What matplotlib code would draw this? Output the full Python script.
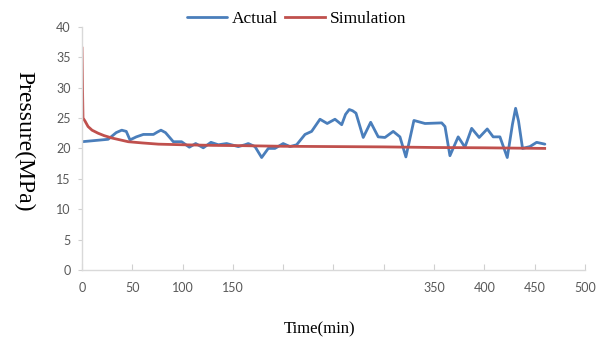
import numpy as np
import matplotlib
matplotlib.use("Agg")
import matplotlib.pyplot as plt

# measured series (min, MPa)
actual_t = [0, 26, 34, 39.5, 44, 47.7, 54, 61, 71, 75, 78.5, 83, 90.8, 99,
            106.7, 113, 120.6, 128.2, 135.5, 143.8, 155.4, 162, 165.3, 172,
            178.6, 185.2, 191.8, 200, 206.8, 213.4, 221.7, 228.3, 236.6, 243.8,
            251.5, 258.2, 262, 265.7, 269, 272.4, 279.6, 287, 294.5, 301.2,
            309.4, 316.1, 322, 330, 341, 357.6, 360.9, 365.8, 374, 380.7,
            387.4, 394.9, 402.9, 408.8, 415.5, 422.8, 428, 431.1, 434, 438,
            445.3, 452, 460.2]
actual_p = [21.1, 21.5, 22.6, 23.0, 22.8, 21.4, 21.9, 22.3, 22.3, 22.7, 23.0,
            22.6, 21.1, 21.1, 20.2, 20.8, 20.1, 21.0, 20.6, 20.8, 20.3, 20.6,
            20.8, 20.3, 18.5, 20.0, 20.0, 20.8, 20.3, 20.6, 22.3, 22.8, 24.8,
            24.1, 24.8, 23.9, 25.6, 26.4, 26.2, 25.8, 21.8, 24.3, 21.9, 21.8,
            22.8, 21.9, 18.6, 24.6, 24.1, 24.2, 23.6, 18.8, 21.9, 20.2, 23.3,
            21.8, 23.2, 21.9, 21.9, 18.5, 24.0, 26.6, 24.5, 20.0, 20.3, 21.0,
            20.7]

sim_t = [0, 0.5, 1, 3, 6, 10, 16, 22, 30, 38, 46, 60, 76, 100, 130, 160, 200,
         250, 300, 350, 400, 460]
sim_p = [36.5, 30, 25, 24.5, 23.6, 23.0, 22.5, 22.1, 21.7, 21.4, 21.1, 20.9,
         20.7, 20.6, 20.5, 20.45, 20.35, 20.3, 20.25, 20.15, 20.1, 20.0]

xticks = [0, 50, 100, 150, 200, 250, 300, 350, 400, 450, 500]
xlabels = ['0', '50', '100', '150', '', '', '', '350', '400', '450', '500']
yticks = [0, 5, 10, 15, 20, 25, 30, 35, 40]

fig = plt.figure(figsize=(6.03, 3.4), dpi=100)
ax = fig.add_axes([0.136, 0.206, 0.834, 0.715])

ax.plot(actual_t, actual_p, color='#4a7ebb', lw=2.0, label='Actual',
        solid_joinstyle='round', solid_capstyle='round')
ax.plot(sim_t, sim_p, color='#c0504d', lw=2.0, label='Simulation',
        solid_joinstyle='round')

ax.set_xlim(0, 500)
ax.set_ylim(0, 40)
ax.set_xticks(xticks)
ax.set_xticklabels(xlabels)
ax.set_yticks(yticks)

for s in ['top', 'right']:
    ax.spines[s].set_visible(False)
for s in ['left', 'bottom']:
    ax.spines[s].set_color('#d9d9d9')
    ax.spines[s].set_linewidth(1.0)

ax.tick_params(axis='x', direction='in', length=4, color='#d0d0d0',
               labelcolor='#595959', labelsize=9, pad=9)
ax.tick_params(axis='y', direction='out', length=3, color='#d0d0d0',
               labelcolor='#595959', labelsize=9, pad=5)
for lab in ax.get_xticklabels() + ax.get_yticklabels():
    lab.set_family('Lato')

ax.set_ylabel('Pressure(MPa)', family='Liberation Serif', fontsize=17,
              rotation=270, va='center')
ax.yaxis.set_label_coords(-0.115, 0.53)
ax.set_xlabel('Time(min)', family='Liberation Serif', fontsize=12, va='center')
ax.xaxis.set_label_coords(0.473, -0.243)

fig.legend(loc='center', bbox_to_anchor=(0.492, 0.943), ncol=2, frameon=False,
           prop={'family': 'Liberation Serif', 'size': 12.5},
           handlelength=2.3, handletextpad=0.3, columnspacing=0.4)

fig.savefig('out.png', dpi=100)
